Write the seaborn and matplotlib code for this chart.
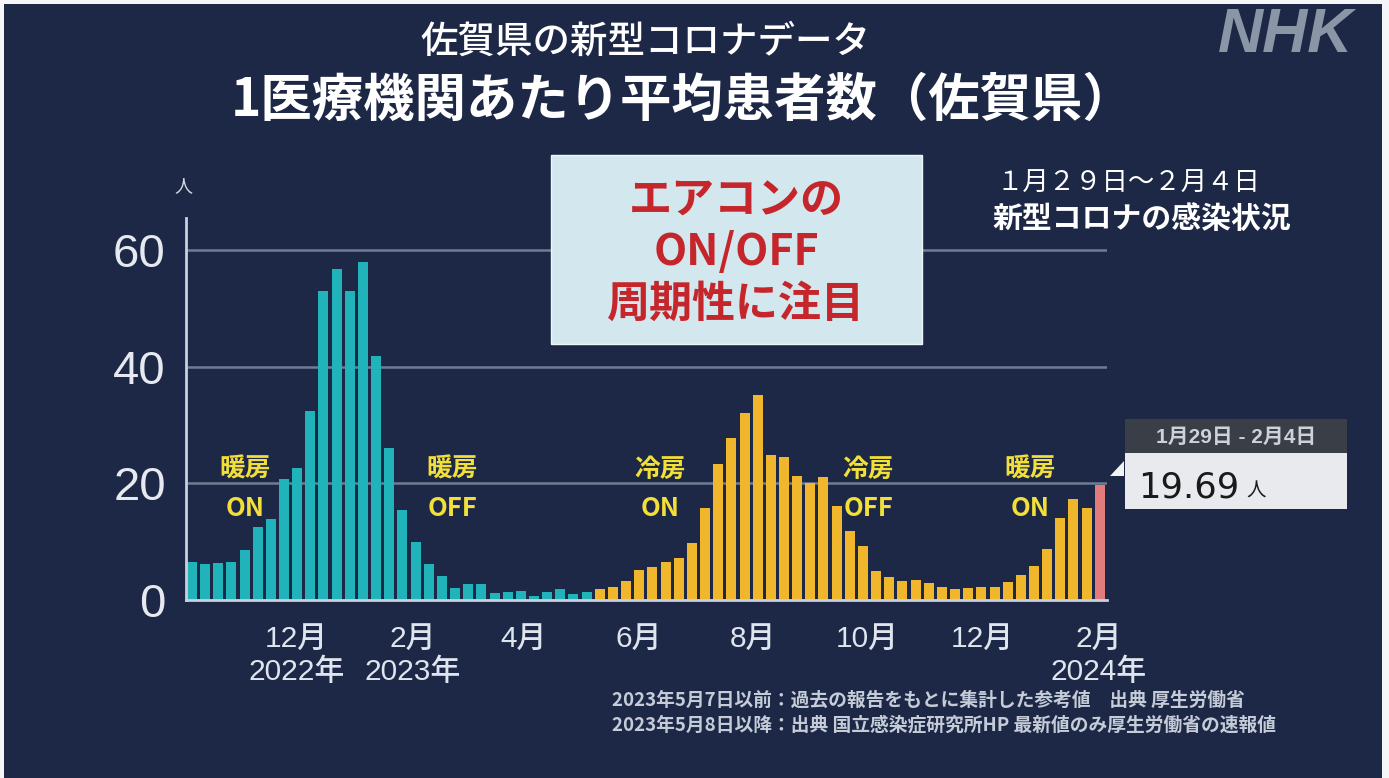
import matplotlib
matplotlib.use("Agg")
import matplotlib.pyplot as plt
from matplotlib.patches import Rectangle, Polygon
import pandas as pd
import seaborn as sns

# ~~~~~~~~~~~~~~~~~~~~~~~~~~~~~~~~~~~~~~~~~~~~~~~~~~~~~~~~~~~~~~~~~~~~~~~
# DATA: weekly average patients per medical institution (Saga pref.)
# ~~~~~~~~~~~~~~~~~~~~~~~~~~~~~~~~~~~~~~~~~~~~~~~~~~~~~~~~~~~~~~~~~~~~~~~
first_week = "2022-10-03"
# up to 2023-05-07 (reference values from past reports)
before_vals = [6.5, 6.2, 6.3, 6.6, 8.5, 12.6, 13.9, 20.7, 22.7, 32.4,
               53.0, 56.8, 53.0, 57.9, 41.9, 26.0, 15.5, 9.9, 6.2, 4.2,
               2.1, 2.8, 2.8, 1.2, 1.3, 1.5, 0.7, 1.3, 1.9, 1.0, 1.4]
# from 2023-05-08 (sentinel surveillance)
after_vals = [1.9, 2.3, 3.3, 5.1, 5.7, 6.5, 7.2, 9.8, 15.7, 23.3,
              27.8, 32.1, 35.1, 24.9, 24.6, 21.3, 20.0, 21.1, 16.1, 11.8,
              9.2, 4.9, 3.9, 3.3, 3.4, 2.9, 2.2, 1.9, 2.0, 2.2,
              2.3, 3.1, 4.3, 5.9, 8.7, 14.1, 17.3, 15.8]
latest_vals = [19.69]

month_dates = ["2022-12-01", "2023-02-01", "2023-04-01", "2023-06-01",
               "2023-08-01", "2023-10-01", "2023-12-01", "2024-02-01"]
month_labels = ["12月", "2月", "4月", "6月", "8月", "10月", "12月", "2月"]
year_labels = ["2022年", "2023年", "", "", "", "", "", "2024年"]
y_ticks = [0, 20, 40, 60]

notes = ["暖房\nON", "暖房\nOFF", "冷房\nON", "冷房\nOFF", "暖房\nON"]
footnotes = ["2023年5月7日以前：過去の報告をもとに集計した参考値　出典 厚生労働省",
             "2023年5月8日以降：出典 国立感染症研究所HP 最新値のみ厚生労働省の速報値"]

# ~~~~~~~~~~~~~~~~~~~~~~~~~~~~~~~~~~~~~~~~~~~~~~~~~~~~~~~~~~~~~~~~~~~~~~~
# styling
# ~~~~~~~~~~~~~~~~~~~~~~~~~~~~~~~~~~~~~~~~~~~~~~~~~~~~~~~~~~~~~~~~~~~~~~~
NAVY = "#1c2846"
LIGHT = "#c9d0dc"
sns.set_theme(style="dark")
plt.rcParams["font.family"] = ["Noto Sans CJK JP", "DejaVu Sans"]
LATIN_CJK = ["Liberation Sans", "Noto Sans CJK JP"]

W, H = 1389, 778
fig = plt.figure(figsize=(W / 100, H / 100), dpi=100, facecolor="#f4f5f7")


def px(x, y):
    return x / W, 1 - y / H


# navy panel inside thin white frame
fig.patches.append(Rectangle((4 / W, 0), 1378 / W, 774 / H, transform=fig.transFigure,
                             facecolor=NAVY, edgecolor="none", zorder=-10))

ax = fig.add_axes([186 / W, 178 / H, 921 / W, 382 / H])
ax.set_facecolor("none")

vals = before_vals + after_vals + latest_vals
phase = ["before"] * len(before_vals) + ["after"] * len(after_vals) + ["latest"] * len(latest_vals)
weeks = pd.date_range(first_week, periods=len(vals), freq="7D")
df = pd.DataFrame({"week": weeks.strftime("%Y-%m-%d"), "value": vals, "phase": phase})

sns.barplot(data=df, x="week", y="value", hue="phase", dodge=False, legend=False,
            palette={"before": "#20b3b9", "after": "#f0b62c", "latest": "#e27b7b"},
            saturation=1, width=0.76, linewidth=0, ax=ax, zorder=3)

start = pd.Timestamp(first_week)
tick_pos = [(pd.Timestamp(d) - start).days / 7 - 0.5 for d in month_dates]
tick_lab = [m if not y else f"{m}\n{y}" for m, y in zip(month_labels, year_labels)]
ax.set_xticks(tick_pos, tick_lab)
ax.set_xlim(-0.45, len(vals) - 0.45)
ax.set_ylim(0, 65.5)
ax.set_yticks(y_ticks)
ax.set_xlabel("")
ax.set_ylabel("")

ax.tick_params(axis="x", length=0, pad=18, labelsize=21.5, labelcolor="#dfe5ee")
ax.tick_params(axis="y", length=7.5, width=2, color=LIGHT, pad=7,
               labelsize=34, labelcolor="#e6eaf0")
for lab in ax.get_yticklabels():
    lab.set_fontfamily("Liberation Sans")
for lab in ax.get_xticklabels():
    lab.set_fontfamily(LATIN_CJK)
    lab.set_fontweight("medium")
    lab.set_linespacing(1.2)

ax.yaxis.grid(True, color="#6f7c93", linewidth=1.8)
ax.xaxis.grid(False)
ax.set_axisbelow(True)
for s in ["top", "right"]:
    ax.spines[s].set_visible(False)
for s in ["left", "bottom"]:
    ax.spines[s].set_color(LIGHT)
    ax.spines[s].set_linewidth(2)
    ax.spines[s].set_zorder(4)

# season annotations
for txt, xpos in zip(notes, [4.05, 19.8, 35.6, 51.4, 63.7]):
    ax.text(xpos, 19.0, txt, ha="center", va="center", color="#f3df3a",
            fontsize=18.5, fontweight="bold", linespacing=1.6, zorder=6)

# unit
fig.text(*px(183, 186), "人", ha="center", va="center", color="#d0d6e0", fontsize=13)

# titles
fig.text(*px(645, 42), "佐賀県の新型コロナデータ", ha="center", va="center",
         color="white", fontsize=27, fontweight="medium")
fig.text(*px(683, 100), "1医療機関あたり平均患者数（佐賀県）", ha="center", va="center",
         color="white", fontsize=37, fontweight="bold")
fig.text(*px(1286, 36), "NHK", ha="center", va="center", color="#8a95a6",
         fontsize=45, fontweight="heavy", style="italic", family="Liberation Sans")

# callout box
fig.patches.append(Rectangle(px(551, 344), 371 / W, 189 / H, transform=fig.transFigure,
                             facecolor="#d3e8ee", edgecolor="#eef6f9", linewidth=1, zorder=5))
fig.text(*px(736, 252), "エアコンの\nON/OFF\n周期性に注目", ha="center", va="center",
         multialignment="center", color="#c4262b", fontsize=31, fontweight="bold",
         linespacing=1.22, zorder=6)

# latest week text (top right)
fig.text(*px(1128, 183), "１月２９日～２月４日", ha="center", va="center",
         color="white", fontsize=19)
fig.text(*px(1142, 219), "新型コロナの感染状況", ha="center", va="center",
         color="white", fontsize=21.5, fontweight="bold")

# tooltip for latest value
fig.patches.append(Rectangle(px(1125, 453), 222 / W, 34 / H, transform=fig.transFigure,
                             facecolor="#3a3e46", edgecolor="none", zorder=5))
fig.patches.append(Rectangle(px(1125, 509), 222 / W, 56 / H, transform=fig.transFigure,
                             facecolor="#e8eaee", edgecolor="none", zorder=5))
fig.patches.append(Polygon([px(1110, 476), px(1124, 461), px(1124, 476)], closed=True,
                           transform=fig.transFigure, facecolor="#f2f3f5",
                           edgecolor="none", zorder=5))
fig.text(*px(1236, 437), "1月29日 - 2月4日", ha="center", va="center",
         color="#cdd1d8", fontsize=15, fontweight="bold", family=LATIN_CJK, zorder=6)
fig.text(*px(1138, 497), "19.69", ha="left", va="baseline", color="#1a1a1a",
         fontsize=25.5, family="DejaVu Sans", zorder=6)
fig.text(*px(1246, 497), "人", ha="left", va="baseline", color="#1a1a1a",
         fontsize=14, zorder=6)

# footnotes
for i, line in enumerate(footnotes):
    fig.text(*px(612, 700 + 25 * i), line, ha="left", va="center",
             color="#c5ccd8", fontsize=13.5, fontweight="bold")

fig.savefig("out.png", dpi=100, facecolor=fig.get_facecolor())
